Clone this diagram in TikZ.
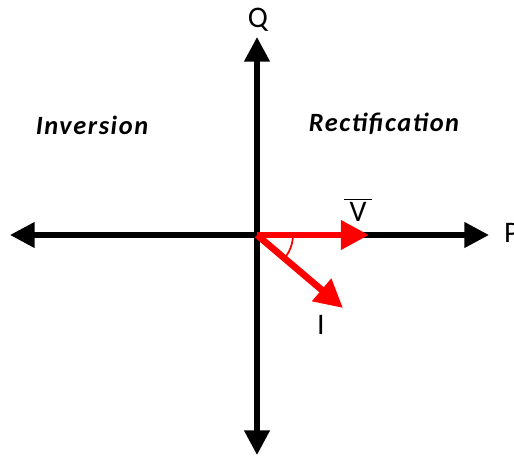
\documentclass[tikz,border=0pt]{standalone}
\usepackage{fontspec}
\setmainfont{Carlito}
\newfontfamily\regionfont[LetterSpace=6]{Carlito}
\usetikzlibrary{arrows.meta}

\begin{document}
\begin{tikzpicture}[x=0.02cm, y=-0.02cm,
    axis/.style={line width=3pt, {Triangle[length=14pt, width=14pt]}-{Triangle[length=14pt, width=14pt]}},
    phasor/.style={line width=3.8pt, red, -{Triangle[length=16pt, width=16pt]}},
    lbl/.style={font=\fontsize{17}{19}\selectfont, inner sep=1pt},
    region/.style={font=\regionfont\fontsize{15}{18}\selectfont\bfseries\itshape}]

\useasboundingbox (0,0) rectangle (514,456);

%% Axes
\coordinate (O)     at (257,235);
\coordinate (pleft) at (10,235);
\coordinate (pright) at (489,235);
\coordinate (qtop)  at (257,37);
\coordinate (qbot)  at (257,455);
\draw[axis] (pleft) -- (pright);
\draw[axis] (qbot) -- (qtop);

\node[lbl] (Q) at (258,20) {Q};
\node[lbl, anchor=west] (P) at (502,233) {P};

%% Regions
\node[region] (inv) at (92,125) {Inversion};
\node[region] (rect) at (384,124) {Rectification};

%% Phasors
\coordinate (vtip) at (369,235);
\coordinate (itip) at (343,308);
\draw[phasor] (O) -- (vtip);
\draw[phasor] (O) -- (itip);
\draw[red, line width=1pt] ([shift={(-5:0.72cm)}]O) arc[start angle=-5, end angle=-36, radius=0.72cm];

\node[lbl] (V) at (358,210) {$\overline{\,\mbox{V}\,}$};
\node[lbl] (I) at (321,325) {I};

\end{tikzpicture}
\end{document}
